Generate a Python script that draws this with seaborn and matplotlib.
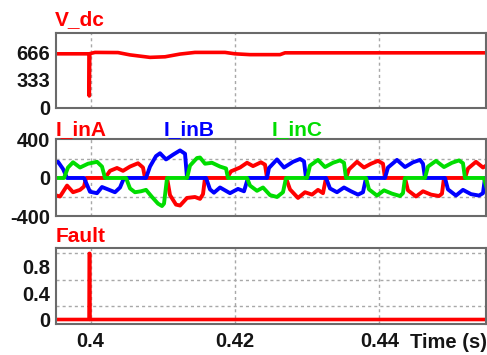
import matplotlib
matplotlib.use("Agg")
import matplotlib.pyplot as plt
import numpy as np
import pandas as pd
import seaborn as sns

sns.set_theme(style="white")
plt.rcParams['font.family'] = ['Liberation Sans', 'DejaVu Sans']

# ---------------- data ----------------
vdc_t = [0.39508, 0.39979, 0.39983, 0.39990, 0.40062, 0.40381, 0.40547, 0.40824,
         0.41032, 0.41240, 0.41447, 0.41863, 0.42001, 0.42209, 0.42625, 0.42694, 0.45492]
vdc_v = [648, 648, 138, 650, 665, 663, 635, 605,
         612, 645, 665, 665, 648, 638, 638, 660, 660]

ia_t = [0.39508, 0.39578, 0.39675, 0.39758, 0.39855, 0.39910, 0.39938,
        0.40201, 0.40270, 0.40367, 0.40450, 0.40547, 0.40658, 0.40727, 0.40755,
        0.41060, 0.41101, 0.41184, 0.41240, 0.41337, 0.41447, 0.41517, 0.41558, 0.41586,
        0.41891, 0.41946, 0.42071, 0.42168, 0.42251, 0.42361, 0.42417, 0.42445,
        0.42708, 0.42763, 0.42874, 0.42971, 0.43068, 0.43151, 0.43220, 0.43262,
        0.43539, 0.43580, 0.43691, 0.43788, 0.43885, 0.43982, 0.44051, 0.44079,
        0.44356, 0.44397, 0.44508, 0.44605, 0.44716, 0.44827, 0.44868, 0.44896,
        0.45187, 0.45229, 0.45339, 0.45436, 0.45547]
ia_v = [-180, -195, -80, -150, -125, -90, 0,
        0, 75, 105, 75, 120, 155, 110, 0,
        0, -180, -280, -290, -210, -200, -220, -170, 0,
        0, 70, 110, 160, 125, 165, 140, 0,
        0, -120, -210, -150, -175, -125, -160, 0,
        0, 90, 170, 110, 150, 180, 150, 0,
        0, -130, -195, -140, -175, -190, -165, 0,
        0, 100, 170, 110, 160]

ib_t = [0.39508, 0.39550, 0.39619, 0.39675,
        0.39910, 0.39993, 0.40090, 0.40159, 0.40242, 0.40339, 0.40409, 0.40464,
        0.40769, 0.40824, 0.40907, 0.40963, 0.41046, 0.41143, 0.41240, 0.41309, 0.41337,
        0.41600, 0.41655, 0.41710, 0.41794, 0.41932, 0.42043, 0.42126, 0.42181,
        0.42445, 0.42472, 0.42583, 0.42680, 0.42805, 0.42902, 0.42957, 0.42985,
        0.43262, 0.43317, 0.43414, 0.43511, 0.43608, 0.43705, 0.43774, 0.43816,
        0.44079, 0.44120, 0.44245, 0.44356, 0.44467, 0.44564, 0.44605, 0.44633,
        0.44910, 0.44951, 0.45062, 0.45159, 0.45270, 0.45381, 0.45436, 0.45464,
        0.45603]
ib_v = [155, 170, 95, 0,
        0, -145, -160, -95, -120, -150, -100, 0,
        0, 120, 230, 260, 195, 245, 290, 255, 0,
        0, -120, -155, -100, -160, -115, -140, 0,
        0, 105, 195, 110, 170, 200, 175, 0,
        0, -110, -150, -100, -140, -175, -150, 0,
        0, 110, 190, 115, 165, 190, 150, 0,
        0, -120, -185, -125, -170, -185, -160, 0,
        0]

ic_t = [0.39508, 0.39633, 0.39688, 0.39758, 0.39855, 0.39965, 0.40090, 0.40159, 0.40201,
        0.40492, 0.40547, 0.40616, 0.40699, 0.40769, 0.40852, 0.40935, 0.40990, 0.41018, 0.41060,
        0.41337, 0.41378, 0.41475, 0.41517, 0.41586, 0.41683, 0.41794, 0.41877, 0.41904,
        0.42168, 0.42209, 0.42306, 0.42389, 0.42486, 0.42583, 0.42666, 0.42708,
        0.42999, 0.43040, 0.43151, 0.43248, 0.43359, 0.43456, 0.43511, 0.43539,
        0.43816, 0.43857, 0.43968, 0.44065, 0.44176, 0.44287, 0.44328, 0.44356,
        0.44633, 0.44674, 0.44785, 0.44896, 0.45007, 0.45104, 0.45159, 0.45187,
        0.45450, 0.45492, 0.45603]
ic_v = [0, 0, 110, 165, 110, 150, 170, 120, 0,
        0, -110, -150, -140, -125, -200, -270, -295, -270, 0,
        0, 130, 210, 215, 150, 160, 120, 100, 0,
        0, -80, -135, -100, -180, -200, -150, 0,
        0, 130, 190, 115, 160, 185, 160, 0,
        0, -120, -185, -130, -165, -190, -160, 0,
        0, 120, 180, 115, 160, 185, 155, 0,
        0, -120, -180]

fault_t = [0.39508, 0.39980, 0.39983, 0.39990, 0.39993, 0.45492]
fault_v = [0, 0, 1, 1, 0, 0]

phase_names = ['I_inA', 'I_inB', 'I_inC']
phase_colors = ['#ff0000', '#0000ff', '#00dd00']

x_ticks = [0.40, 0.42, 0.44]
x_tick_labels = ['0.4', '0.42', '0.44']
vdc_ticks = [0, 333, 666]
vdc_grid = [333, 666]
cur_ticks = [-400, 0, 400]
cur_grid = [-200, 0, 200]
fault_ticks = [0, 0.4, 0.8]
fault_tick_labels = ['0', '0.4', '0.8']
fault_grid = [0.2, 0.4, 0.6, 0.8, 1.0]

# ---------------- figure ----------------
W, H = 487, 355
fig = plt.figure(figsize=(W / 100, H / 100), dpi=100)
fig.patch.set_facecolor('white')


def ax_at(x0, y0, x1, y1):
    return fig.add_axes([x0 / W, 1 - y1 / H, (x1 - x0) / W, (y1 - y0) / H])


ax1 = ax_at(56, 33, 486, 108)
ax2 = ax_at(56, 139, 486, 216)
ax3 = ax_at(56, 248, 486, 324)

LW = 2.8
TXT = '#151515'
FS = 14.5
FT = 15

line_kw = dict(estimator=None, sort=False, legend=False,
               solid_joinstyle='round', solid_capstyle='butt')

df_vdc = pd.DataFrame({'t': vdc_t, 'v': vdc_v})
sns.lineplot(data=df_vdc, x='t', y='v', ax=ax1, color='#ff0000', lw=2.6, **line_kw)

frames = []
for name, tt, vv in zip(phase_names, [ia_t, ib_t, ic_t], [ia_v, ib_v, ic_v]):
    frames.append(pd.DataFrame({'t': tt, 'v': vv, 'phase': name}))
df_cur = pd.concat(frames, ignore_index=True)
sns.lineplot(data=df_cur, x='t', y='v', hue='phase', hue_order=phase_names,
             palette=phase_colors, ax=ax2, lw=LW, **line_kw)

df_fault = pd.DataFrame({'t': fault_t, 'v': fault_v})
sns.lineplot(data=df_fault, x='t', y='v', ax=ax3, color='#ff0000', lw=2.6, **line_kw)

ylims = [(-8, 900), (-395, 410), (-0.068, 1.083)]
yticks = [(vdc_ticks, [str(v) for v in vdc_ticks]),
          (cur_ticks, [str(v) for v in cur_ticks]),
          (fault_ticks, fault_tick_labels)]
ygrids = [vdc_grid, cur_grid, fault_grid]

for ax, yl, (tk, tl), gr in zip([ax1, ax2, ax3], ylims, yticks, ygrids):
    ax.set_xlim(0.39522, 0.45478)
    ax.set_ylim(*yl)
    ax.set_xlabel('')
    ax.set_ylabel('')
    ax.set_facecolor('white')
    ax.set_xticks(x_ticks)
    ax.set_yticks(tk)
    ax.set_yticklabels(tl, fontsize=FS, fontweight='bold', color=TXT)
    ax.set_yticks(gr, minor=True)
    ax.grid(False)
    ax.yaxis.grid(True, which='minor', color='#a8a8a8', linestyle=(0, (2.2, 2.2)), lw=1.0)
    ax.xaxis.grid(True, which='major', color='#a8a8a8', linestyle=(0, (2.2, 2.2)), lw=1.0)
    ax.set_axisbelow(True)
    ax.tick_params(which='both', length=0, pad=4)
    for s in ax.spines.values():
        s.set_color('#6a6a6a')
        s.set_linewidth(1.5)
        s.set_visible(True)

for ax in (ax1, ax2):
    ax.set_xticklabels([])
ax3.set_xticklabels(x_tick_labels, fontsize=FS, fontweight='bold', color=TXT)
ax3.tick_params(axis='x', pad=6)

# titles
def ftxt(x, y, s, c, fs=FT):
    fig.text(x / W, 1 - y / H, s, color=c, fontsize=fs, fontweight='bold',
             va='baseline', ha='left')

ftxt(55, 25, 'V_dc', '#ff0000')
ftxt(56, 135, 'I_inA', phase_colors[0])
ftxt(164, 135, 'I_inB', phase_colors[1])
ftxt(272, 135, 'I_inC', phase_colors[2])
ftxt(56, 242, 'Fault', '#ff0000')
ftxt(410, 348, 'Time (s)', TXT, FS)

fig.savefig('out.png', dpi=100, facecolor='white')
